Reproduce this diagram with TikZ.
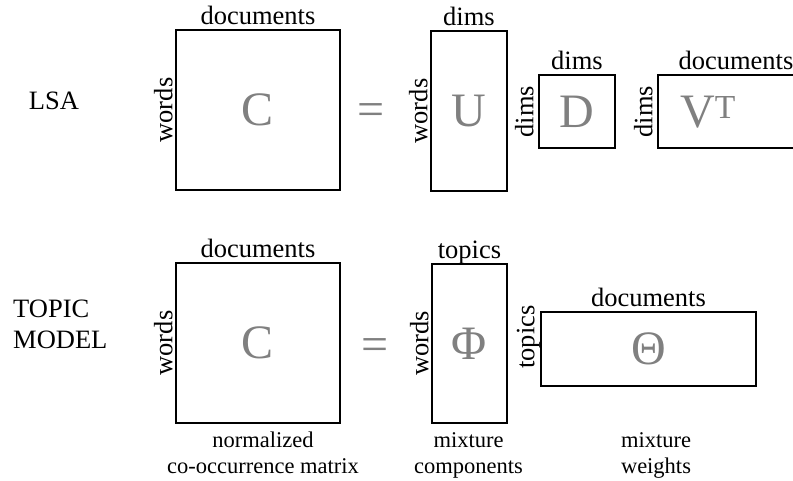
\documentclass[tikz,border=0pt]{standalone}
\usepackage{fontspec}
\setmainfont{Liberation Serif}

\tikzset{
  mat/.style={draw, line width=1.2pt, inner sep=0pt, text=gray, font=\fontsize{48}{48}\selectfont},
  big/.style={text=gray, inner sep=0pt, anchor=base, font=\fontsize{48}{48}\selectfont},
  lab/.style={inner sep=0pt, anchor=base, font=\fontsize{26.5}{31}\selectfont},
  side/.style={lab, rotate=90},
  capt/.style={inner sep=0pt, anchor=north, align=center, font=\fontsize{22.5}{26}\selectfont}
}

\begin{document}
\begin{tikzpicture}[x=1pt,y=1pt]
\clip (0,0) rectangle (793,480);
% LSA
\node[lab] (lsa) at (54,370) {LSA};
\node[mat, minimum width=164pt, minimum height=160pt] (lc) at (258,370) {C};
\node[lab] (lctop) at ([yshift=4.5pt]lc.north) {documents};
\node[side] (lcside) at ([xshift=-3pt]lc.west) {words};
\node[big] (leq) at (371,354) {=};
\node[mat, minimum width=76pt, minimum height=160pt] (lu) at (469,369) {U};
\node[lab] (lutop) at ([yshift=4.5pt]lu.north) {dims};
\node[side] (luside) at ([xshift=-3pt]lu.west) {words};
\node[mat, minimum width=76pt, minimum height=73pt] (ld) at (577,368.5) {D};
\node[lab] (ldtop) at ([yshift=4.5pt]ld.north) {dims};
\node[side] (ldside) at ([xshift=-5pt]ld.west) {dims};
\node[mat, minimum width=156pt, minimum height=73pt] (lv) at (736,368.5) {};
\node[big] (lvt) at ([xshift=-28pt,yshift=-16pt]lv.center) {V\textsuperscript{T}};
\node[lab] (lvtop) at ([yshift=4.5pt]lv.north) {documents};
\node[side] (lvside) at ([xshift=-5pt]lv.west) {dims};
% topic model
\node[lab, anchor=north west, align=left] (tm) at (13,180) {TOPIC\\MODEL};
\node[mat, minimum width=164pt, minimum height=160pt] (tc) at (258,137) {C};
\node[lab] (tctop) at ([yshift=4.5pt]tc.north) {documents};
\node[side] (tcside) at ([xshift=-3pt]tc.west) {words};
\node[big] (teq) at (375,120) {=};
\node[mat, minimum width=75pt, minimum height=159pt] (tphi) at (469.5,136.5) {Φ};
\node[lab] (tphitop) at ([yshift=4.5pt]tphi.north) {topics};
\node[side] (tphiside) at ([xshift=-3pt]tphi.west) {words};
\node[mat, minimum width=215pt, minimum height=74pt] (tth) at (648.5,131) {Θ};
\node[lab] (tthtop) at ([yshift=4.5pt]tth.north) {documents};
\node[side] (tthside) at ([xshift=-6pt,yshift=12pt]tth.west) {topics};
% captions
\node[capt] (capc) at ([xshift=5pt,yshift=-8pt]tc.south) {normalized\\co-occurrence matrix};
\node[capt] (capphi) at ([xshift=-1pt,yshift=-9pt]tphi.south) {mixture\\components};
\node[capt] (capth) at (656,48) {mixture\\weights};
\end{tikzpicture}
\end{document}
